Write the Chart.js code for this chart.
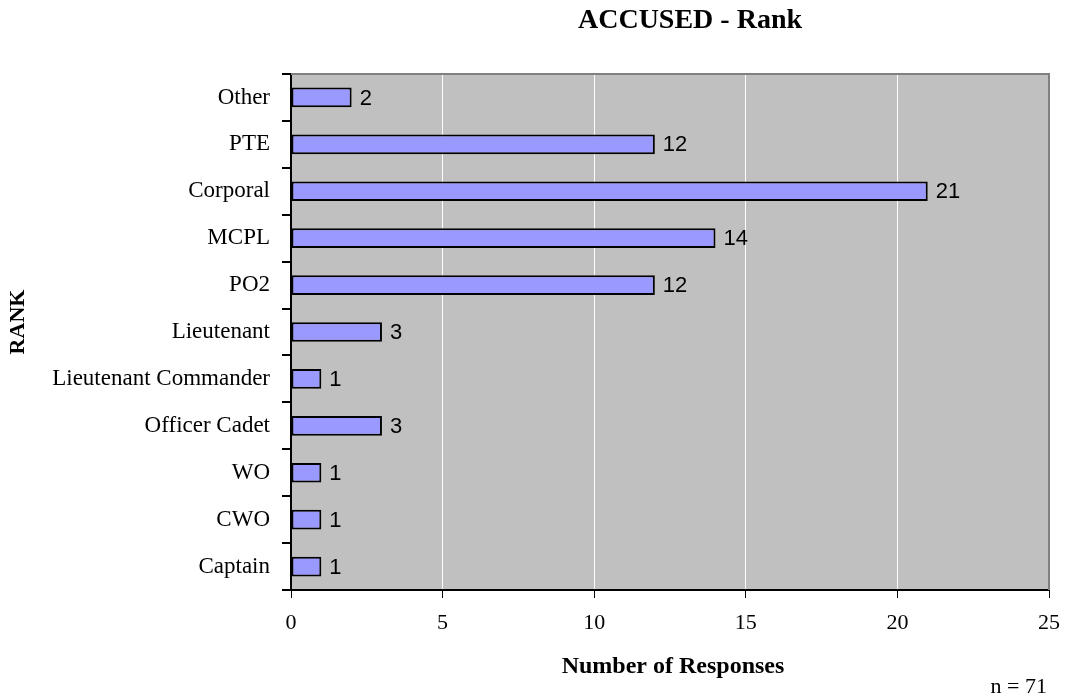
<!DOCTYPE html>
<html>
<head>
<meta charset="utf-8">
<script src="https://cdn.jsdelivr.net/npm/chart.js@4/dist/chart.umd.min.js"></script>
<style>
  body { margin: 0; background: #fff; }
  #wrap { width: 1065px; height: 700px; position: relative; }
</style>
</head>
<body>
<div id="wrap"><canvas id="myChart" width="1065" height="700"></canvas></div>
<script>
var ranks = ['Other', 'PTE', 'Corporal', 'MCPL', 'PO2', 'Lieutenant', 'Lieutenant Commander', 'Officer Cadet', 'WO', 'CWO', 'Captain'];
var counts = [2, 12, 21, 14, 12, 3, 1, 3, 1, 1, 1];
var xTicks = [0, 5, 10, 15, 20, 25];

var serif = '"Liberation Serif", "Times New Roman", serif';
var sans = '"Liberation Sans", Arial, sans-serif';

// gray plot area, gray top/right border, extra texts, bar value labels
var decor = {
    id: 'decor',
    beforeDraw: function(chart) {
        var a = chart.chartArea, c = chart.ctx;
        c.save();
        c.fillStyle = '#c0c0c0';
        c.fillRect(a.left, a.top, a.right - a.left, a.bottom - a.top);
        c.restore();
    },
    afterDraw: function(chart) {
        var a = chart.chartArea, c = chart.ctx;
        c.save();
        c.strokeStyle = '#808080';
        c.lineWidth = 2;
        c.beginPath();
        c.moveTo(a.left, a.top);
        c.lineTo(a.right, a.top);
        c.lineTo(a.right, a.bottom);
        c.stroke();

        c.fillStyle = '#000';
        c.textBaseline = 'middle';
        c.font = 'bold 28px ' + serif;
        c.textAlign = 'center';
        c.fillText('ACCUSED - Rank', 690, 21);
        c.font = 'bold 24px ' + serif;
        c.fillText('Number of Responses', 673, 667);
        c.font = '22px ' + serif;
        c.textAlign = 'right';
        c.fillText('n = 71', 1047, 687);
        c.translate(18, 322);
        c.rotate(-Math.PI / 2);
        c.font = 'bold 22px ' + serif;
        c.textAlign = 'center';
        c.fillText('RANK', 0, 0);
        c.restore();

        c.save();
        c.font = '22px ' + sans;
        c.fillStyle = '#000';
        c.textBaseline = 'middle';
        c.textAlign = 'left';
        chart.getDatasetMeta(0).data.forEach(function(bar, i) {
            c.fillText(counts[i], bar.x + 8, bar.y + 1);
        });
        c.restore();
    }
};

var ctx = document.getElementById('myChart');
var myChart = new Chart(ctx, {
    type: 'bar',
    data: {
        labels: ranks,
        datasets: [{
            data: counts,
            backgroundColor: '#9999ff',
            borderColor: '#000',
            borderWidth: 2,
            borderSkipped: false,
            categoryPercentage: 1,
            barPercentage: 0.42
        }]
    },
    options: {
        indexAxis: 'y',
        responsive: false,
        animation: false,
        layout: { padding: { top: 74, right: 16, left: 0, bottom: 0 } },
        plugins: {
            legend: { display: false },
            tooltip: { enabled: false },
            title: { display: false }
        },
        scales: {
            x: {
                min: 0,
                max: 25,
                afterFit: function(s) {
                    s.height = 110;
                    s.paddingLeft = 0;
                    s.paddingRight = 0;
                },
                afterBuildTicks: function(s) {
                    s.ticks = xTicks.map(function(v) { return { value: v }; });
                },
                grid: {
                    color: '#ffffff',
                    tickColor: '#000',
                    lineWidth: 1,
                    tickLength: 8,
                    drawOnChartArea: true
                },
                border: { color: '#000', width: 2 },
                ticks: {
                    color: '#000',
                    padding: 12,
                    maxRotation: 0,
                    font: { family: serif, size: 22 }
                }
            },
            y: {
                afterFit: function(s) { s.width = 291; },
                grid: {
                    offset: true,
                    drawOnChartArea: false,
                    tickColor: '#000',
                    tickLength: 9,
                    lineWidth: 2
                },
                border: { color: '#000', width: 2 },
                ticks: {
                    color: '#000',
                    padding: 12,
                    autoSkip: false,
                    font: { family: serif, size: 23 }
                }
            }
        }
    },
    plugins: [decor]
});
</script>
</body>
</html>
